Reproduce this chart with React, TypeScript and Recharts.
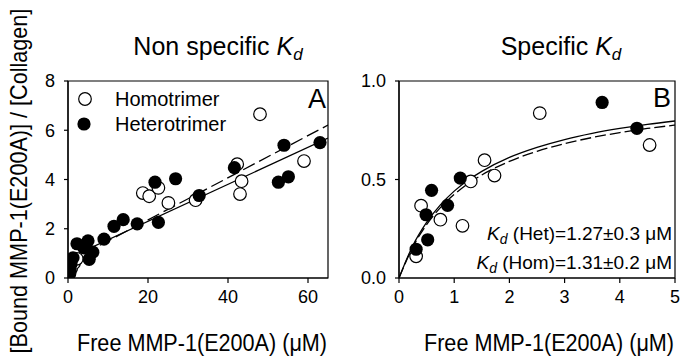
import { ComposedChart, Scatter, Line, XAxis, YAxis, ReferenceArea } from 'recharts'

const FONT = '"Liberation Sans", Arial, sans-serif'

// ---- panel A: non specific Kd ----
const homoA = [
  { x: 0.4, y: 0.2 }, { x: 0.8, y: 0.4 }, { x: 1.5, y: 0.6 }, { x: 2.2, y: 0.78 },
  { x: 18.7, y: 3.45 }, { x: 20.3, y: 3.32 }, { x: 22.6, y: 3.66 }, { x: 25.1, y: 3.05 },
  { x: 31.9, y: 3.16 }, { x: 42.3, y: 4.62 }, { x: 43.4, y: 3.93 }, { x: 43, y: 3.41 },
  { x: 48, y: 6.65 }, { x: 59, y: 4.75 },
]
const hetA = [
  { x: 0.3, y: 0.15 }, { x: 0.5, y: 0.29 }, { x: 0.75, y: 0.57 }, { x: 1.25, y: 0.82 },
  { x: 2.25, y: 1.39 }, { x: 4, y: 1.22 }, { x: 5, y: 1.51 }, { x: 5.3, y: 0.76 },
  { x: 6.2, y: 1.05 }, { x: 9, y: 1.58 }, { x: 11.5, y: 2.1 }, { x: 13.8, y: 2.37 },
  { x: 17.3, y: 2.2 }, { x: 21.75, y: 3.89 }, { x: 22.6, y: 2.26 }, { x: 26.9, y: 4.03 },
  { x: 32.8, y: 3.35 }, { x: 41.6, y: 4.48 }, { x: 52.6, y: 3.89 }, { x: 54, y: 5.39 },
  { x: 55.1, y: 4.11 }, { x: 63, y: 5.5 },
]
const fitSolidA = [{ x: 0, y: 0.8 }, { x: 65, y: 5.68 }]
const fitDashA = [{ x: 0, y: 0.65 }, { x: 65, y: 6.21 }]

// ---- panel B: specific Kd ----
const homoB = [
  { x: 0.31, y: 0.11 }, { x: 0.4, y: 0.367 }, { x: 0.75, y: 0.296 }, { x: 1.15, y: 0.265 },
  { x: 1.3, y: 0.49 }, { x: 1.55, y: 0.598 }, { x: 1.73, y: 0.52 }, { x: 2.55, y: 0.837 },
  { x: 4.54, y: 0.675 },
]
const hetB = [
  { x: 0.31, y: 0.146 }, { x: 0.49, y: 0.321 }, { x: 0.52, y: 0.194 }, { x: 0.59, y: 0.445 },
  { x: 0.88, y: 0.369 }, { x: 1.11, y: 0.507 }, { x: 3.68, y: 0.891 }, { x: 4.31, y: 0.76 },
]
const fitSolidB = [
  { x: 0, y: 0 }, { x: 0.25, y: 0.164 }, { x: 0.5, y: 0.282 }, { x: 0.75, y: 0.371 },
  { x: 1, y: 0.441 }, { x: 1.25, y: 0.496 }, { x: 1.5, y: 0.541 }, { x: 2, y: 0.612 },
  { x: 2.5, y: 0.663 }, { x: 3, y: 0.703 }, { x: 3.5, y: 0.734 }, { x: 4, y: 0.759 },
  { x: 4.5, y: 0.78 }, { x: 5, y: 0.797 },
]
const fitDashB = [
  { x: 0, y: 0 }, { x: 0.25, y: 0.157 }, { x: 0.5, y: 0.271 }, { x: 0.75, y: 0.357 },
  { x: 1, y: 0.424 }, { x: 1.25, y: 0.479 }, { x: 1.5, y: 0.523 }, { x: 2, y: 0.592 },
  { x: 2.5, y: 0.643 }, { x: 3, y: 0.682 }, { x: 3.5, y: 0.713 }, { x: 4, y: 0.738 },
  { x: 4.5, y: 0.759 }, { x: 5, y: 0.776 },
]

const ticksAX = [0, 20, 40, 60]
const ticksAY = [0, 2, 4, 6, 8]
const ticksBX = [0, 1, 2, 3, 4, 5]
const ticksBY = [0, 0.5, 1]

const tickStyle = { fill: '#000', fontSize: 18, fontFamily: FONT }
const axisLine = { stroke: '#000', strokeWidth: 1.2 }

const openDot = (p: any) => <circle cx={p.cx} cy={p.cy} r={6.3} fill="#fff" stroke="#000" strokeWidth={1.2} />
const filledDot = (p: any) => <circle cx={p.cx} cy={p.cy} r={6.6} fill="#000" />

function Panel(props: {
  width: number; yWidth: number; right: number
  xDomain: [number, number]; yDomain: [number, number]
  xTicks: number[]; yTicks: number[]; yFmt?: (v: number) => string
  homo: any[]; het: any[]; solid: any[]; dashed: any[]; dash: string; curve: 'linear' | 'monotone'
}) {
  const p = props
  return (
    <ComposedChart width={p.width} height={361} margin={{ top: 81, right: p.right, bottom: 0, left: 0 }}>
      <XAxis
        type="number" dataKey="x" domain={p.xDomain} ticks={p.xTicks} allowDataOverflow
        height={83} tick={tickStyle} tickSize={5} tickMargin={7}
        axisLine={axisLine} tickLine={axisLine}
      />
      <YAxis
        type="number" dataKey="y" domain={p.yDomain} ticks={p.yTicks} allowDataOverflow
        width={p.yWidth} tick={tickStyle} tickSize={4} tickMargin={9} tickFormatter={p.yFmt}
        axisLine={axisLine} tickLine={axisLine}
      />
      <ReferenceArea x1={p.xDomain[0]} x2={p.xDomain[1]} y1={p.yDomain[0]} y2={p.yDomain[1]}
        fill="none" stroke="#000" strokeWidth={1.2} />
      <Line data={p.solid} dataKey="y" type={p.curve} dot={false} stroke="#000" strokeWidth={1.3} isAnimationActive={false} />
      <Line data={p.dashed} dataKey="y" type={p.curve} dot={false} stroke="#000" strokeWidth={1.3}
        strokeDasharray={p.dash} isAnimationActive={false} />
      <Scatter data={p.homo} shape={openDot} isAnimationActive={false} />
      <Scatter data={p.het} shape={filledDot} isAnimationActive={false} />
    </ComposedChart>
  )
}

export default function App() {
  return (
    <div style={{ position: 'absolute', left: 0, top: 0, width: 681, height: 361, background: '#fff', overflow: 'hidden', fontFamily: FONT }}>
      <div style={{ position: 'absolute', left: 0, top: 0 }}>
        <Panel width={340} yWidth={68} right={12} xDomain={[0, 65]} yDomain={[0, 8]}
          xTicks={ticksAX} yTicks={ticksAY} homo={homoA} het={hetA}
          solid={fitSolidA} dashed={fitDashA} dash="13 5" curve="linear" />
      </div>
      <div style={{ position: 'absolute', left: 340, top: 0 }}>
        <Panel width={341} yWidth={59} right={6} xDomain={[0, 5]} yDomain={[0, 1]}
          xTicks={ticksBX} yTicks={ticksBY} yFmt={(v) => v.toFixed(1)} homo={homoB} het={hetB}
          solid={fitSolidB} dashed={fitDashB} dash="11 4" curve="monotone" />
      </div>
      <svg width={681} height={361} style={{ position: 'absolute', left: 0, top: 0, pointerEvents: 'none' }}
        fontFamily={FONT} fill="#000">
        <g transform="translate(27,181) rotate(-90) scale(0.94,1)">
          <text textAnchor="middle" fontSize={23}>[Bound MMP-1(E200A)] / [Collagen]</text>
        </g>
        <text x={218} y={55} textAnchor="middle" fontSize={25}>
          Non specific <tspan fontStyle="italic">K</tspan><tspan fontStyle="italic" fontSize={17} dy={5}>d</tspan>
        </text>
        <text x={561} y={55} textAnchor="middle" fontSize={25}>
          Specific <tspan fontStyle="italic">K</tspan><tspan fontStyle="italic" fontSize={17} dy={5}>d</tspan>
        </text>
        <g transform="translate(202,351) scale(0.9,1)">
          <text textAnchor="middle" fontSize={24}>Free MMP-1(E200A) (μM)</text>
        </g>
        <g transform="translate(549,351) scale(0.9,1)">
          <text textAnchor="middle" fontSize={24}>Free MMP-1(E200A) (μM)</text>
        </g>

        <circle cx={85} cy={99} r={6.3} fill="#fff" stroke="#000" strokeWidth={1.2} />
        <text x={115} y={106} fontSize={20}>Homotrimer</text>
        <circle cx={84} cy={124} r={6.6} fill="#000" />
        <text x={115} y={131} fontSize={20}>Heterotrimer</text>
        <text x={317} y={108} textAnchor="middle" fontSize={27}>A</text>
        <text x={662} y={107} textAnchor="middle" fontSize={27}>B</text>

        <text x={672} y={240} textAnchor="end" fontSize={19}>
          <tspan fontStyle="italic">K</tspan><tspan fontStyle="italic" fontSize={14} dy={4}>d</tspan>
          <tspan dy={-4}> (Het)=1.27±0.3 μM</tspan>
        </text>
        <text x={672} y={269} textAnchor="end" fontSize={19}>
          <tspan fontStyle="italic">K</tspan><tspan fontStyle="italic" fontSize={14} dy={4}>d</tspan>
          <tspan dy={-4}> (Hom)=1.31±0.2 μM</tspan>
        </text>
      </svg>
    </div>
  )
}
